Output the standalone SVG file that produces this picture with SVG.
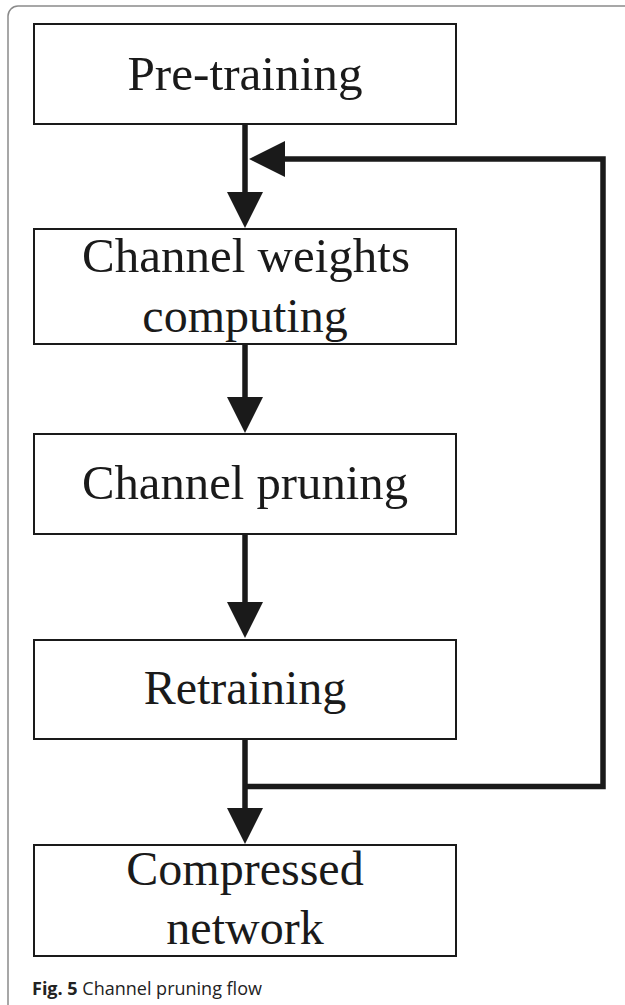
<svg xmlns="http://www.w3.org/2000/svg" width="625" height="1005" viewBox="0 0 625 1005">
  <style>
    .box { fill: #ffffff; stroke: #1a1a1a; stroke-width: 2; }
    .label { font-family: "Liberation Serif", "Times New Roman", serif; font-size: 48px; fill: #1a1a1a; text-anchor: middle; }
    .wire { fill: none; stroke: #1a1a1a; stroke-width: 5.5; stroke-linejoin: miter; stroke-linecap: butt; }
    .caption { font-family: "Open Sans", "Noto Sans", sans-serif; font-size: 18px; fill: #222222; }
  </style>
  <defs>
    <marker id="head" markerUnits="userSpaceOnUse" markerWidth="36" markerHeight="36" viewBox="0 0 36 36" refX="1" refY="18" orient="auto">
      <path d="M0,0 L36,18 L0,36 z" fill="#1a1a1a"/>
    </marker>
  </defs>

  <rect width="625" height="1005" fill="#ffffff"/>
  <!-- figure frame -->
  <rect x="8" y="6" width="650" height="1030" rx="10" fill="none" stroke="#8a8a8a" stroke-width="1.5"/>

  <g id="connectors">
    <path class="wire" d="M245,124 V193" marker-end="url(#head)"/>
    <path class="wire" d="M245,344 V398" marker-end="url(#head)"/>
    <path class="wire" d="M245,534 V603" marker-end="url(#head)"/>
    <path class="wire" d="M245,739 V809" marker-end="url(#head)"/>
    <path class="wire" d="M245,786.5 H603 V159 H284" marker-end="url(#head)"/>
  </g>

  <g id="pre-training">
    <rect class="box" x="34" y="24" width="422" height="100"/>
    <text class="label" x="245" y="90" textLength="235" lengthAdjust="spacingAndGlyphs">Pre-training</text>
  </g>

  <g id="channel-weights-computing">
    <rect class="box" x="34" y="229" width="422" height="115"/>
    <text class="label" x="246" y="272" textLength="328" lengthAdjust="spacingAndGlyphs">Channel weights</text>
    <text class="label" x="245" y="332">computing</text>
  </g>

  <g id="channel-pruning">
    <rect class="box" x="34" y="434" width="422" height="100"/>
    <text class="label" x="245" y="499" textLength="326" lengthAdjust="spacingAndGlyphs">Channel pruning</text>
  </g>

  <g id="retraining">
    <rect class="box" x="34" y="640" width="422" height="99"/>
    <text class="label" x="245" y="704">Retraining</text>
  </g>

  <g id="compressed-network">
    <rect class="box" x="34" y="845" width="422" height="111"/>
    <text class="label" x="245" y="885">Compressed</text>
    <text class="label" x="245" y="944">network</text>
  </g>

  <text class="caption" x="32" y="995"><tspan font-weight="bold">Fig. 5</tspan> Channel pruning flow</text>
</svg>
